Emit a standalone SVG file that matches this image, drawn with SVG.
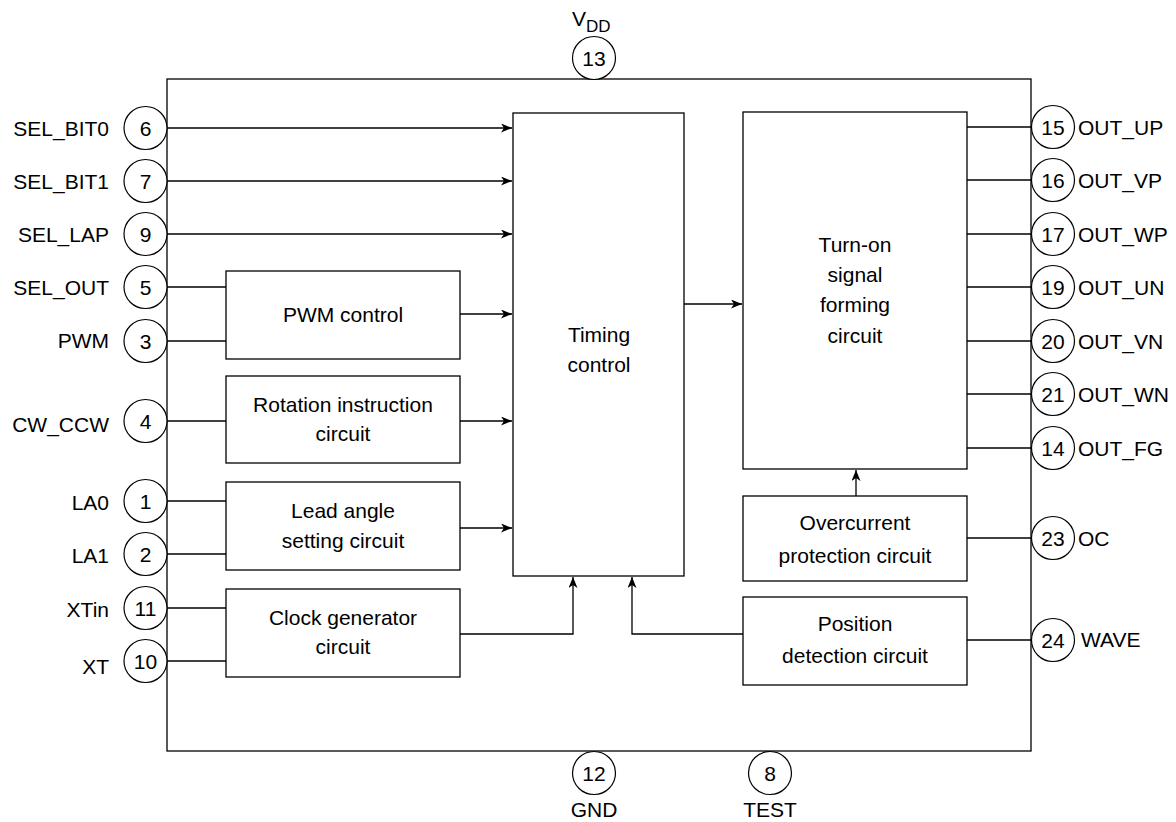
<svg xmlns="http://www.w3.org/2000/svg" width="1176" height="822" viewBox="0 0 1176 822">
<style>
text{font-family:"Liberation Sans",Arial,sans-serif;font-size:21px;fill:#000}
.c{text-anchor:middle}
.r{text-anchor:end}
.sub{font-size:17px}
.box{fill:#fff;stroke:#000;stroke-width:1.3}
.pin{fill:#fff;stroke:#000;stroke-width:1.2}
.ln{fill:none;stroke:#000;stroke-width:1.3}
.ar{fill:none;stroke:#000;stroke-width:1.3;marker-end:url(#ah)}
</style>
<defs>
<marker id="ah" markerUnits="userSpaceOnUse" markerWidth="12" markerHeight="10" refX="11" refY="4.5" orient="auto">
<path d="M0,0 L11,4.5 L0,9 L3,4.5 z" fill="#000"/>
</marker>
</defs>
<rect width="1176" height="822" fill="#fff"/>
<g id="chip"><rect x="167" y="79" width="864" height="672" class="box"/></g>

<g id="connectors">
<line x1="167" y1="128" x2="512" y2="128" class="ar"/>
<line x1="167" y1="181" x2="512" y2="181" class="ar"/>
<line x1="167" y1="234" x2="512" y2="234" class="ar"/>
<line x1="167" y1="287" x2="226" y2="287" class="ln"/>
<line x1="167" y1="341" x2="226" y2="341" class="ln"/>
<line x1="167" y1="421" x2="226" y2="421" class="ln"/>
<line x1="167" y1="501" x2="226" y2="501" class="ln"/>
<line x1="167" y1="554" x2="226" y2="554" class="ln"/>
<line x1="167" y1="608" x2="226" y2="608" class="ln"/>
<line x1="167" y1="661" x2="226" y2="661" class="ln"/>
<line x1="460" y1="314" x2="512" y2="314" class="ar"/>
<line x1="460" y1="421" x2="512" y2="421" class="ar"/>
<line x1="460" y1="528" x2="512" y2="528" class="ar"/>
<polyline points="460,634 573,634 573,577" class="ar"/>
<polyline points="743,634 632,634 632,577" class="ar"/>
<line x1="684" y1="304" x2="742" y2="304" class="ar"/>
<line x1="856" y1="496" x2="856" y2="470" class="ar"/>
<line x1="967" y1="127" x2="1031" y2="127" class="ln"/>
<line x1="967" y1="180" x2="1031" y2="180" class="ln"/>
<line x1="967" y1="234" x2="1031" y2="234" class="ln"/>
<line x1="967" y1="287" x2="1031" y2="287" class="ln"/>
<line x1="967" y1="341" x2="1031" y2="341" class="ln"/>
<line x1="967" y1="394" x2="1031" y2="394" class="ln"/>
<line x1="967" y1="448" x2="1031" y2="448" class="ln"/>
<line x1="967" y1="538" x2="1031" y2="538" class="ln"/>
<line x1="967" y1="640" x2="1031" y2="640" class="ln"/>
</g>

<g id="timing"><rect x="513" y="113" width="171" height="463" class="box"/>
<text x="599" y="342" class="c">Timing</text><text x="599" y="372" class="c">control</text></g>
<g id="turnon"><rect x="743" y="112" width="224" height="357" class="box"/>
<text x="855" y="252" class="c">Turn-on</text><text x="855" y="282" class="c">signal</text><text x="855" y="312" class="c">forming</text><text x="855" y="343" class="c">circuit</text></g>
<g id="pwm"><rect x="226" y="271" width="234" height="88" class="box"/>
<text x="343" y="322" class="c">PWM control</text></g>
<g id="rotation"><rect x="226" y="376" width="234" height="87" class="box"/>
<text x="343" y="412" class="c">Rotation instruction</text><text x="343" y="441" class="c">circuit</text></g>
<g id="lead"><rect x="226" y="482" width="234" height="88" class="box"/>
<text x="343" y="518" class="c">Lead angle</text><text x="343" y="548" class="c">setting circuit</text></g>
<g id="clock"><rect x="226" y="589" width="234" height="88" class="box"/>
<text x="343" y="625" class="c">Clock generator</text><text x="343" y="654" class="c">circuit</text></g>
<g id="overcurrent"><rect x="743" y="496" width="224" height="85" class="box"/>
<text x="855" y="530" class="c">Overcurrent</text><text x="855" y="563" class="c">protection circuit</text></g>
<g id="position"><rect x="743" y="597" width="224" height="88" class="box"/>
<text x="855" y="631" class="c">Position</text><text x="855" y="663" class="c">detection circuit</text></g>

<g id="pin6"><circle cx="145.5" cy="128" r="21.5" class="pin"/><text x="145.5" y="135.5" class="c">6</text><text x="109" y="135.5" class="r">SEL_BIT0</text></g>
<g id="pin7"><circle cx="145.5" cy="181" r="21.5" class="pin"/><text x="145.5" y="188.5" class="c">7</text><text x="109" y="189" class="r">SEL_BIT1</text></g>
<g id="pin9"><circle cx="145.5" cy="234" r="21.5" class="pin"/><text x="145.5" y="241.5" class="c">9</text><text x="109" y="242" class="r">SEL_LAP</text></g>
<g id="pin5"><circle cx="145.5" cy="287" r="21.5" class="pin"/><text x="145.5" y="294.5" class="c">5</text><text x="109" y="295" class="r">SEL_OUT</text></g>
<g id="pin3"><circle cx="145.5" cy="341" r="21.5" class="pin"/><text x="145.5" y="348.5" class="c">3</text><text x="109" y="348" class="r">PWM</text></g>
<g id="pin4"><circle cx="145.5" cy="421" r="21.5" class="pin"/><text x="145.5" y="428.5" class="c">4</text><text x="109" y="432" class="r">CW_CCW</text></g>
<g id="pin1"><circle cx="145.5" cy="501" r="21.5" class="pin"/><text x="145.5" y="508.5" class="c">1</text><text x="109" y="510" class="r">LA0</text></g>
<g id="pin2"><circle cx="145.5" cy="554" r="21.5" class="pin"/><text x="145.5" y="561.5" class="c">2</text><text x="109" y="563" class="r">LA1</text></g>
<g id="pin11"><circle cx="145.5" cy="608" r="21.5" class="pin"/><text x="145.5" y="615.5" class="c">11</text><text x="109" y="617" class="r">XTin</text></g>
<g id="pin10"><circle cx="145.5" cy="661" r="21.5" class="pin"/><text x="145.5" y="668.5" class="c">10</text><text x="109" y="674" class="r">XT</text></g>

<g id="pin15"><circle cx="1053" cy="127" r="21.5" class="pin"/><text x="1053" y="134.5" class="c">15</text><text x="1078" y="135">OUT_UP</text></g>
<g id="pin16"><circle cx="1053" cy="180" r="21.5" class="pin"/><text x="1053" y="187.5" class="c">16</text><text x="1078" y="188">OUT_VP</text></g>
<g id="pin17"><circle cx="1053" cy="234" r="21.5" class="pin"/><text x="1053" y="241.5" class="c">17</text><text x="1078" y="242">OUT_WP</text></g>
<g id="pin19"><circle cx="1053" cy="287" r="21.5" class="pin"/><text x="1053" y="294.5" class="c">19</text><text x="1078" y="295">OUT_UN</text></g>
<g id="pin20"><circle cx="1053" cy="341" r="21.5" class="pin"/><text x="1053" y="348.5" class="c">20</text><text x="1078" y="349">OUT_VN</text></g>
<g id="pin21"><circle cx="1053" cy="394" r="21.5" class="pin"/><text x="1053" y="401.5" class="c">21</text><text x="1078" y="402">OUT_WN</text></g>
<g id="pin14"><circle cx="1053" cy="448" r="21.5" class="pin"/><text x="1053" y="455.5" class="c">14</text><text x="1078" y="456">OUT_FG</text></g>
<g id="pin23"><circle cx="1053" cy="538" r="21.5" class="pin"/><text x="1053" y="545.5" class="c">23</text><text x="1078" y="546">OC</text></g>
<g id="pin24"><circle cx="1053" cy="640" r="21.5" class="pin"/><text x="1053" y="647.5" class="c">24</text><text x="1081" y="647">WAVE</text></g>

<g id="pin13"><circle cx="594" cy="58" r="21.5" class="pin"/><text x="594" y="65.5" class="c">13</text><text x="572" y="26">V<tspan class="sub" dy="6">DD</tspan></text></g>
<g id="pin12"><circle cx="594" cy="773" r="21.5" class="pin"/><text x="594" y="780.5" class="c">12</text><text x="594" y="817" class="c">GND</text></g>
<g id="pin8"><circle cx="770" cy="773" r="21.5" class="pin"/><text x="770" y="780.5" class="c">8</text><text x="770" y="817" class="c">TEST</text></g>
</svg>
